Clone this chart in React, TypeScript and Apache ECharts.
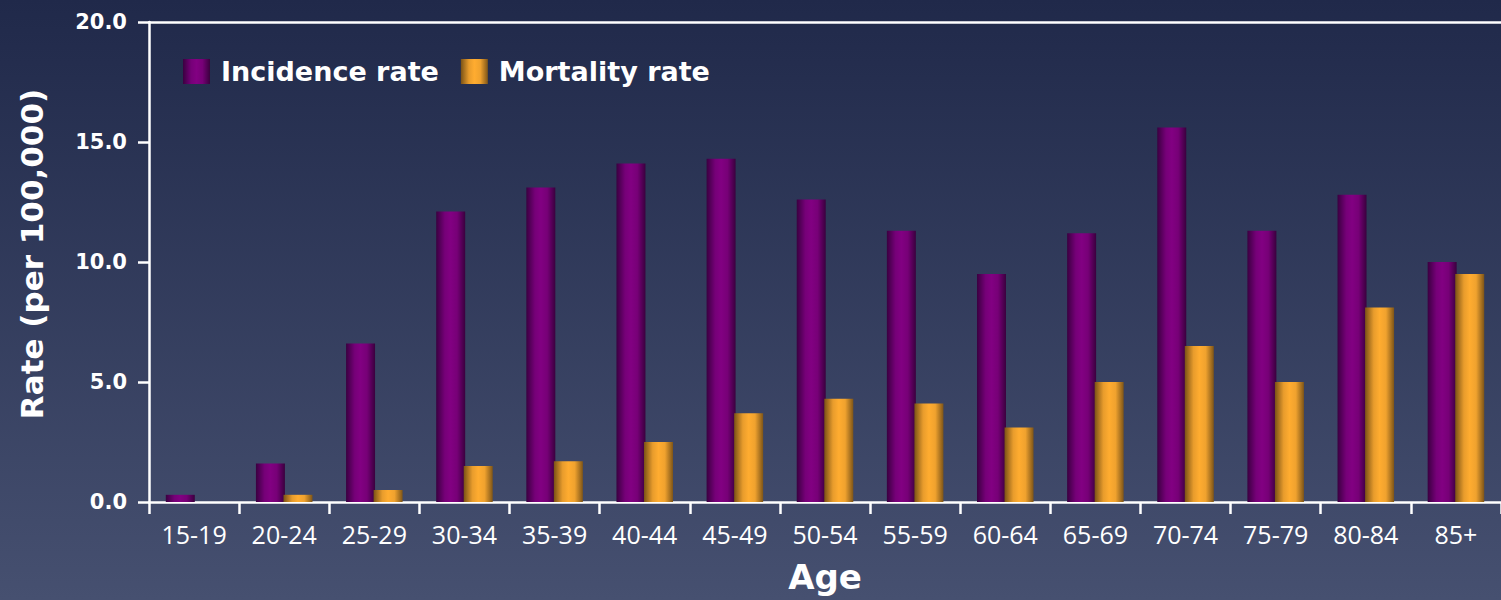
import React, { useEffect, useRef } from "react";
import * as echarts from "echarts";

const ageGroups = ["15-19", "20-24", "25-29", "30-34", "35-39", "40-44", "45-49", "50-54", "55-59", "60-64", "65-69", "70-74", "75-79", "80-84", "85+"];
const incidenceRate = [0.3, 1.6, 6.6, 12.1, 13.1, 14.1, 14.3, 12.6, 11.3, 9.5, 11.2, 15.6, 11.3, 12.8, 10.0];
const mortalityRate = [0, 0.3, 0.5, 1.5, 1.7, 2.5, 3.7, 4.3, 4.1, 3.1, 5.0, 6.5, 5.0, 8.1, 9.5];
const yTicks = [0, 5, 10, 15, 20];

const FONT = "'Open Sans', 'DejaVu Sans', sans-serif";
const BOLD_FONT = "'DejaVu Sans', 'Open Sans', sans-serif";

const purpleGrad = new echarts.graphic.LinearGradient(0, 0, 1, 0, [
  { offset: 0, color: "#3a0040" },
  { offset: 0.3, color: "#760078" },
  { offset: 0.5, color: "#820082" },
  { offset: 0.72, color: "#770077" },
  { offset: 1, color: "#3a003e" },
]);
const orangeGrad = new echarts.graphic.LinearGradient(0, 0, 1, 0, [
  { offset: 0, color: "#7a5216" },
  { offset: 0.3, color: "#e89c2c" },
  { offset: 0.5, color: "#ffac30" },
  { offset: 0.72, color: "#f0a22e" },
  { offset: 1, color: "#7e5518" },
]);

export default function App() {
  const ref = useRef<HTMLDivElement>(null);
  useEffect(() => {
    if (!ref.current) return;
    const chart = echarts.init(ref.current, null, { renderer: "svg" });
    chart.setOption({
      animation: false,
      backgroundColor: new echarts.graphic.LinearGradient(0, 0, 0, 1, [
        { offset: 0, color: "#20294a" },
        { offset: 1, color: "#465070" },
      ]),
      textStyle: { fontFamily: FONT },
      grid: { left: 149, top: 22, width: 1358, height: 480, containLabel: false },
      legend: {
        left: 183,
        top: 58,
        padding: 0,
        itemWidth: 27,
        itemHeight: 25,
        itemGap: 22,
        icon: "rect",
        textStyle: { color: "#ffffff", fontSize: 27, fontWeight: "bold", fontFamily: BOLD_FONT, padding: [0, 0, 0, 6] },
        data: ["Incidence rate", "Mortality rate"],
      },
      xAxis: [
        {
          type: "category",
          data: ageGroups,
          boundaryGap: true,
          axisLine: { lineStyle: { color: "#ffffff", width: 2.5 } },
          axisTick: { show: true, length: 12, lineStyle: { color: "#ffffff", width: 2.5 } },
          axisLabel: { color: "#ffffff", fontSize: 25, margin: 19, fontFamily: FONT },
          name: "Age",
          nameLocation: "middle",
          nameGap: 58,
          nameTextStyle: { color: "#ffffff", fontSize: 34, fontWeight: "bold", fontFamily: BOLD_FONT },
        },
        {
          type: "category",
          data: ageGroups,
          position: "top",
          axisLine: { lineStyle: { color: "#ffffff", width: 2.5 } },
          axisTick: { show: false },
          axisLabel: { show: false },
        },
      ],
      yAxis: {
        type: "value",
        min: yTicks[0],
        max: yTicks[yTicks.length - 1],
        interval: 5,
        axisLine: { show: true, lineStyle: { color: "#ffffff", width: 2.5 } },
        axisTick: { show: true, length: 11, lineStyle: { color: "#ffffff", width: 2.5 } },
        splitLine: { show: false },
        axisLabel: {
          color: "#ffffff",
          fontSize: 21,
          fontWeight: "bold",
          margin: 22,
          fontFamily: BOLD_FONT,
          formatter: (v: number) => v.toFixed(1),
        },
        name: "Rate (per 100,000)",
        nameLocation: "middle",
        nameRotate: 90,
        nameGap: 102,
        nameTextStyle: { color: "#ffffff", fontSize: 31, fontWeight: "bold", fontFamily: BOLD_FONT, padding: [0, 0, 0, 16] },
      },
      series: [
        {
          name: "Incidence rate",
          type: "bar",
          data: incidenceRate,
          barWidth: 29,
          barGap: "-5%",
          itemStyle: { color: purpleGrad },
        },
        {
          name: "Mortality rate",
          type: "bar",
          data: mortalityRate,
          barWidth: 29,
          barGap: "-5%",
          itemStyle: { color: orangeGrad },
        },
      ],
    });
    return () => chart.dispose();
  }, []);
  return (
    <div
      ref={ref}
      style={{ position: "fixed", left: 0, top: 0, width: 1501, height: 600 }}
    />
  );
}
